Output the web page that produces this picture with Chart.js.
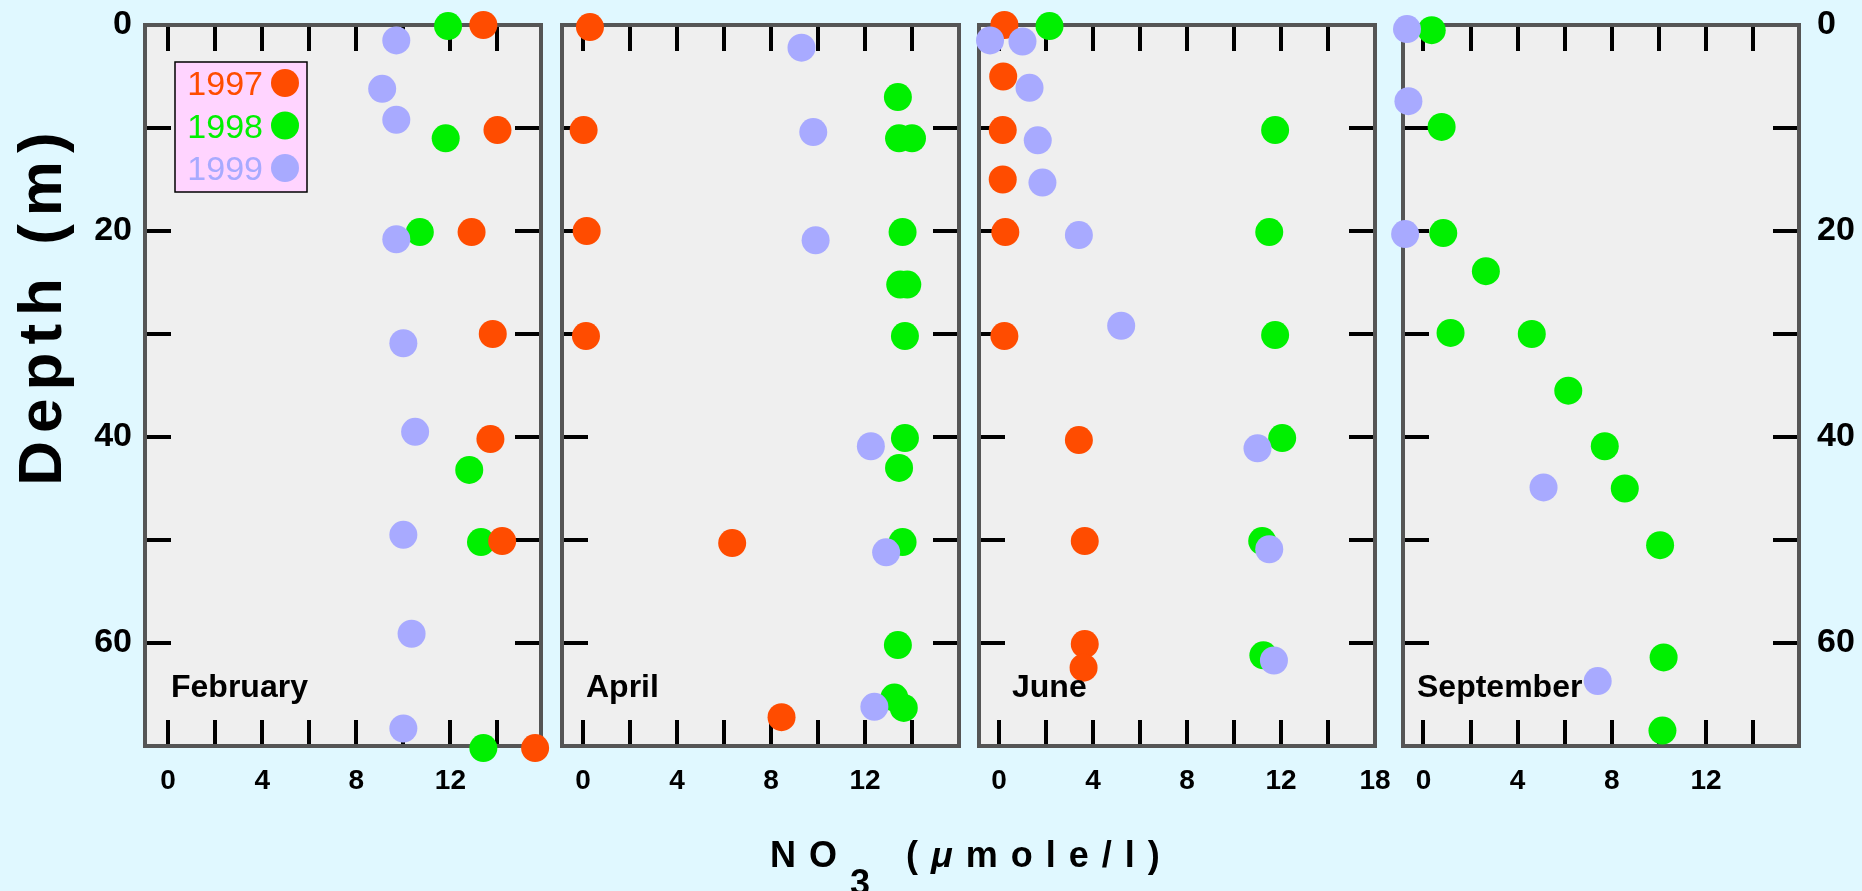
<!DOCTYPE html>
<html>
<head>
<meta charset="utf-8">
<script src="https://cdn.jsdelivr.net/npm/chart.js@4.4.1/dist/chart.umd.min.js"></script>
<style>
html,body{margin:0;padding:0;background:#e0f8ff;}
#wrap{position:relative;width:1862px;height:891px;overflow:hidden;background:#e0f8ff;}
#wrap canvas{position:absolute;left:0;top:0;}
#ytitle{position:absolute;left:-210px;top:269px;width:500px;height:80px;line-height:80px;text-align:center;
  font-family:"Liberation Sans",Arial,Helvetica,sans-serif;font-weight:bold;font-size:62px;letter-spacing:8px;
  transform:rotate(-90deg);color:#000;white-space:nowrap;text-indent:8px;}
#xtitle{position:absolute;left:770px;top:837px;height:40px;line-height:36px;
  font-family:"Liberation Sans",Arial,Helvetica,sans-serif;font-weight:bold;font-size:36px;letter-spacing:13px;
  color:#000;white-space:nowrap;}
#xtitle .sub{position:relative;top:28px;}
#xtitle .mu{font-style:italic;}
</style>
</head>
<body>
<div id="wrap">
  <canvas id="c0" width="1862" height="891"></canvas>
  <canvas id="c1" width="1862" height="891"></canvas>
  <canvas id="c2" width="1862" height="891"></canvas>
  <canvas id="c3" width="1862" height="891"></canvas>
  <div id="ytitle">Depth (m)</div>
  <div id="xtitle">NO<span class="sub">3</span> (<span class="mu">μ</span>mole/l)</div>
</div>
<script>
// ---------------- DATA ----------------
const years = ['1997', '1998', '1999'];
const months = ['February', 'April', 'June', 'September'];

// [NO3 (umole/l), depth (m)]
const feb1997 = [[13.4,0],[14.0,10.2],[12.9,20.1],[13.8,30.0],[13.7,40.2],[14.2,50.1],[15.6,70.2]];
const feb1998 = [[11.9,0.1],[11.8,11.0],[10.7,20.1],[12.8,43.2],[13.3,50.2],[13.4,70.2]];
const feb1999 = [[9.7,1.5],[9.1,6.2],[9.7,9.2],[9.7,20.8],[10.0,30.9],[10.5,39.5],[10.0,49.5],[10.35,59.1],[10.0,68.3]];

const apr1997 = [[0.3,0.2],[0.03,10.2],[0.16,20.0],[0.13,30.2],[6.35,50.3],[8.45,67.2]];
const apr1998 = [[13.4,7.0],[13.45,11.0],[14.0,11.0],[13.6,20.1],[13.5,25.2],[13.8,25.2],[13.7,30.2],[13.7,40.1],[13.45,43.0],[13.6,50.2],[13.4,60.2],[13.25,65.3],[13.65,66.3]];
const apr1999 = [[9.3,2.2],[9.8,10.4],[9.9,20.9],[12.25,40.9],[12.9,51.2],[12.4,66.2]];

const jun1997 = [[0.23,0],[0.18,5.0],[0.16,10.2],[0.16,15.0],[0.27,20.1],[0.23,30.2],[3.4,40.3],[3.65,50.1],[3.65,60.1],[3.6,62.4]];
const jun1998 = [[2.15,0.1],[11.75,10.2],[11.5,20.1],[11.75,30.1],[12.05,40.1],[11.2,50.1],[11.25,61.2]];
const jun1999 = [[-0.38,1.5],[1.0,1.6],[1.3,6.1],[1.65,11.2],[1.85,15.3],[3.4,20.4],[5.2,29.2],[11.0,41.1],[11.5,50.9],[11.7,61.7]];

const sep1997 = [];
const sep1998 = [[0.35,0.5],[0.77,9.9],[0.84,20.2],[2.65,23.9],[1.15,29.9],[4.6,30.0],[6.15,35.5],[7.7,40.9],[8.55,45.0],[10.05,50.5],[10.2,61.4],[10.15,68.5]];
const sep1999 = [[-0.7,0.4],[-0.64,7.4],[-0.78,20.3],[5.1,44.9],[7.4,63.7]];

// tick labels
const depthTickValues = [0, 20, 40, 60];
const depthTickLabels = ['0', '20', '40', '60'];
const no3TickValues = [0, 4, 8, 12];
const no3TickLabels = ['0', '4', '8', '12'];
const juneTickValues = [0, 4, 8, 12, 16];
const juneTickLabels = ['0', '4', '8', '12', '18'];
// inward tick marks
const no3TickMarks = [0, 2, 4, 6, 8, 10, 12, 14];
const depthTickMarks = [10, 20, 30, 40, 50, 60];

// ---------------- STYLE / LAYOUT ----------------
const W = 1862, H = 891;
const FONT = '"Liberation Sans", Arial, Helvetica, sans-serif';
const yearColors = ['#ff4c00', '#00f000', '#a8aaff'];
const yearOrder = [1, 2, 0]; // 1999 on top, 1998 at the bottom
const TOP = 25, BOTTOM = 746, TICKLEN = 26;
const XAXIS_H = 80, YAXIS_LEFT_W = 100, YAXIS_RIGHT_W = 60;

const panels = [
  {id:'c0', month:months[0], data:[feb1997, feb1998, feb1999], left:145, right:541, xmin:-0.98, xmax:15.85,
   yLabels:'left', xVals:no3TickValues, xLabels:no3TickLabels, monthDx:26, legend:true},
  {id:'c1', month:months[1], data:[apr1997, apr1998, apr1999], left:562, right:959, xmin:-0.89, xmax:16.0,
   yLabels:null, xVals:no3TickValues, xLabels:no3TickLabels, monthDx:24, legend:false},
  {id:'c2', month:months[2], data:[jun1997, jun1998, jun1999], left:979, right:1375, xmin:-0.85, xmax:16.0,
   yLabels:null, xVals:juneTickValues, xLabels:juneTickLabels, monthDx:33, legend:false},
  {id:'c3', month:months[3], data:[sep1997, sep1998, sep1999], left:1403, right:1799, xmin:-0.87, xmax:15.95,
   yLabels:'right', xVals:no3TickValues, xLabels:no3TickLabels, monthDx:14, legend:false}
];

const panelPlugin = {
  id: 'panel',
  beforeDatasetsDraw(chart) {
    const {ctx, chartArea: a, scales: {x, y}} = chart;
    ctx.save();
    ctx.fillStyle = '#efefef';
    ctx.fillRect(a.left, a.top, a.right - a.left, a.bottom - a.top);
    ctx.strokeStyle = '#000';
    ctx.lineWidth = 4;
    ctx.beginPath();
    for (const v of no3TickMarks) {
      const px = Math.round(x.getPixelForValue(v));
      ctx.moveTo(px, a.top); ctx.lineTo(px, a.top + TICKLEN);
      ctx.moveTo(px, a.bottom); ctx.lineTo(px, a.bottom - TICKLEN);
    }
    for (const v of depthTickMarks) {
      const py = Math.round(y.getPixelForValue(v));
      ctx.moveTo(a.left, py); ctx.lineTo(a.left + TICKLEN, py);
      ctx.moveTo(a.right, py); ctx.lineTo(a.right - TICKLEN, py);
    }
    ctx.stroke();
    ctx.strokeStyle = '#555555';
    ctx.lineWidth = 4;
    ctx.strokeRect(a.left, a.top, a.right - a.left, a.bottom - a.top);
    ctx.restore();
  },
  afterDatasetsDraw(chart, args, opts) {
    const {ctx, chartArea: a} = chart;
    ctx.save();
    ctx.fillStyle = '#000';
    ctx.font = 'bold 32px ' + FONT;
    ctx.textAlign = 'left';
    ctx.textBaseline = 'alphabetic';
    ctx.fillText(opts.month, a.left + opts.monthDx, 697);
    if (opts.legend) {
      const bx = a.left + 30, by = a.top + 37, bw = 132, bh = 130;
      ctx.fillStyle = '#ffd4ff';
      ctx.fillRect(bx, by, bw, bh);
      ctx.strokeStyle = '#000';
      ctx.lineWidth = 1.5;
      ctx.strokeRect(bx, by, bw, bh);
      ctx.font = '34px ' + FONT;
      ctx.textAlign = 'right';
      chart.data.datasets.forEach((ds, i) => {
        ctx.fillStyle = ds.backgroundColor;
        ctx.fillText(ds.label, bx + 88, by + 33 + 42.5 * i);
        ctx.beginPath();
        ctx.arc(bx + 110, by + 21 + 42.5 * i, 14, 0, Math.PI * 2);
        ctx.fill();
      });
    }
    ctx.restore();
  }
};

panels.forEach(p => {
  const ctx = document.getElementById(p.id).getContext('2d');
  const datasets = years.map((yr, i) => ({
    label: yr,
    data: p.data[i].map(([x, y]) => ({x, y})),
    backgroundColor: yearColors[i],
    borderWidth: 0,
    pointRadius: 14,
    pointHoverRadius: 14,
    clip: false,
    order: yearOrder[i]
  }));
  const yW = p.yLabels === 'left' ? YAXIS_LEFT_W : (p.yLabels === 'right' ? YAXIS_RIGHT_W : 0);
  const padLeft = p.yLabels === 'left' ? p.left - yW : p.left;
  const padRight = p.yLabels === 'right' ? W - p.right - yW : W - p.right;
  new Chart(ctx, {
    type: 'scatter',
    data: {datasets},
    options: {
      responsive: false,
      maintainAspectRatio: false,
      animation: false,
      devicePixelRatio: 1,
      events: [],
      layout: {padding: {left: padLeft, right: padRight, top: TOP, bottom: H - BOTTOM - XAXIS_H}},
      plugins: {
        legend: {display: false},
        tooltip: {enabled: false},
        panel: {month: p.month, monthDx: p.monthDx, legend: p.legend}
      },
      scales: {
        x: {
          type: 'linear', position: 'bottom', min: p.xmin, max: p.xmax,
          grid: {display: false, drawTicks: true, tickLength: 18}, border: {display: false},
          afterFit: s => { s.height = XAXIS_H; },
          afterBuildTicks: s => { s.ticks = p.xVals.map(v => ({value: v})); },
          ticks: {
            autoSkip: false, maxRotation: 0, minRotation: 0, padding: 0, color: '#000',
            font: {family: FONT, size: 28, weight: 'bold'},
            callback: v => p.xLabels[p.xVals.indexOf(v)]
          }
        },
        y: {
          type: 'linear', position: p.yLabels === 'right' ? 'right' : 'left',
          display: !!p.yLabels, reverse: true, min: 0, max: 70,
          grid: {display: false, drawTicks: true, tickLength: p.yLabels === 'right' ? 18 : 13}, border: {display: false},
          afterFit: s => { s.width = yW; },
          afterBuildTicks: s => { s.ticks = depthTickValues.map(v => ({value: v})); },
          ticks: {
            autoSkip: false, padding: 0, color: '#000',
            font: {family: FONT, size: 34, weight: 'bold'},
            callback: v => depthTickLabels[depthTickValues.indexOf(v)]
          }
        }
      }
    },
    plugins: [panelPlugin]
  });
});
</script>
</body>
</html>
